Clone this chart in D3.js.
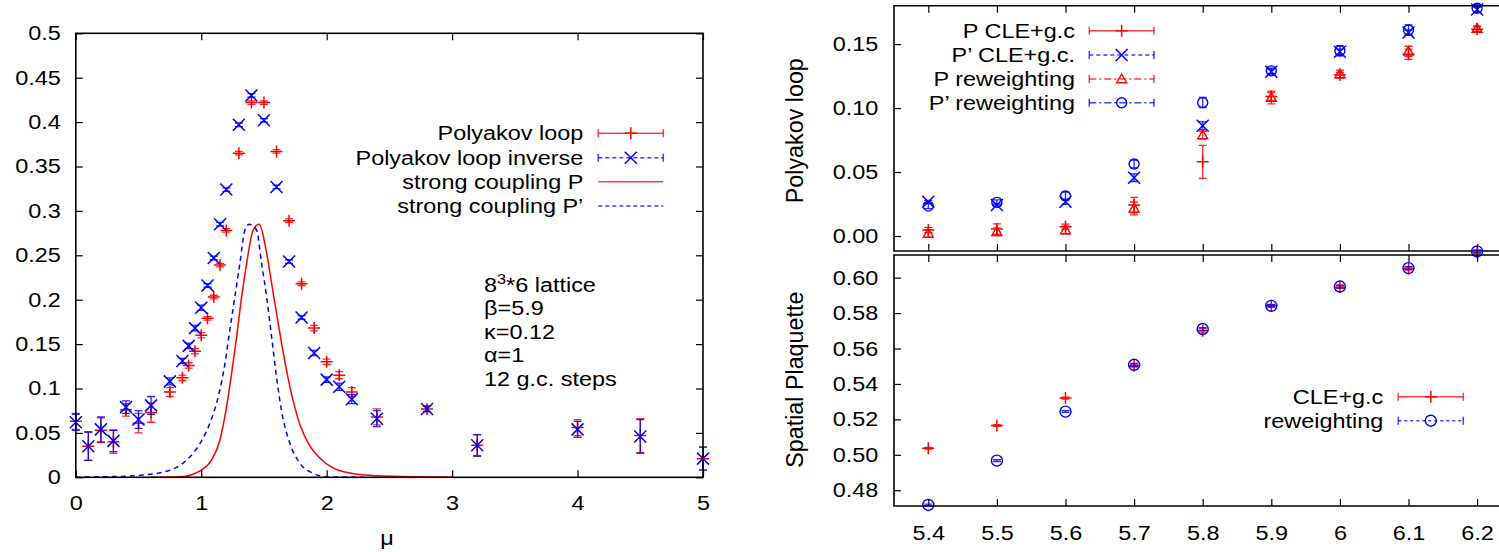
<!DOCTYPE html>
<html><head><meta charset="utf-8">
<script src="https://cdn.jsdelivr.net/npm/d3@7"></script>
<style>
body{margin:0;background:#fff}
svg{display:block}
text{font-family:"Liberation Sans",Arial,sans-serif;fill:#000}
</style>
</head><body>
<svg id="c" width="1499" height="552"></svg>
<script>
// ---------------- DATA ----------------
// Left panel: Polyakov loop vs mu
const mu = [0, 0.1, 0.2, 0.3, 0.4, 0.5, 0.6, 0.75, 0.85, 0.9, 0.95, 1.0, 1.05, 1.1, 1.15, 1.2, 1.3, 1.4, 1.5, 1.6, 1.7, 1.8, 1.9, 2.0, 2.1, 2.2, 2.4, 2.8, 3.2, 4.0, 4.5, 5.0];
const polyP = [0.063, 0.035, 0.053, 0.040, 0.076, 0.061, 0.073, 0.096, 0.112, 0.126, 0.142, 0.160, 0.179, 0.203, 0.239, 0.278, 0.365, 0.422, 0.422, 0.367, 0.289, 0.218, 0.168, 0.130, 0.115, 0.096, 0.068, 0.077, 0.036, 0.056, 0.047, 0.021];
const polyPErr = [0.009, 0.016, 0.014, 0.013, 0.007, 0.011, 0.011, 0.005, 0.003, 0.003, 0.003, 0.003, 0.002, 0.002, 0.002, 0.002, 0.002, 0.002, 0.002, 0.002, 0.002, 0.002, 0.003, 0.003, 0.004, 0.005, 0.009, 0.003, 0.012, 0.009, 0.019, 0.013];
const polyPinv = [0.062, 0.035, 0.054, 0.041, 0.079, 0.065, 0.081, 0.108, 0.131, 0.148, 0.168, 0.191, 0.216, 0.247, 0.285, 0.324, 0.397, 0.430, 0.402, 0.327, 0.243, 0.180, 0.140, 0.110, 0.102, 0.088, 0.066, 0.077, 0.036, 0.054, 0.046, 0.021];
const polyPinvErr = [0.009, 0.016, 0.014, 0.012, 0.007, 0.010, 0.010, 0.004, 0.003, 0.003, 0.003, 0.003, 0.002, 0.002, 0.002, 0.002, 0.002, 0.002, 0.002, 0.002, 0.002, 0.002, 0.003, 0.003, 0.004, 0.005, 0.009, 0.003, 0.012, 0.009, 0.019, 0.013];
// strong coupling curves
const scPmu  = [0.6, 0.845, 0.952, 1.0, 1.083, 1.149, 1.202, 1.242, 1.282, 1.322, 1.362, 1.414, 1.462, 1.515, 1.565, 1.62, 1.675, 1.733, 1.79, 1.855, 1.962, 2.095, 2.308, 2.6, 3.0];
const scP    = [0.0, 0.0005, 0.0045, 0.008, 0.0195, 0.042, 0.0795, 0.117, 0.158, 0.2034, 0.241, 0.2785, 0.285, 0.2575, 0.215, 0.168, 0.124, 0.086, 0.058, 0.038, 0.0195, 0.008, 0.0026, 0.0008, 0.0002];
const scPpmu = [0.0, 0.3, 0.537, 0.75, 0.884, 0.99, 1.069, 1.136, 1.189, 1.228, 1.268, 1.308, 1.348, 1.383, 1.441, 1.481, 1.521, 1.561, 1.6, 1.64, 1.707, 1.787, 1.893, 2.0, 2.3];
const scPp   = [0.0003, 0.0008, 0.0026, 0.008, 0.0195, 0.038, 0.061, 0.091, 0.128, 0.166, 0.2034, 0.241, 0.2785, 0.285, 0.2785, 0.241, 0.2034, 0.158, 0.113, 0.075, 0.038, 0.0158, 0.0045, 0.0005, 0.0];
const muTicks = [0, 1, 2, 3, 4, 5];
const polyTicks = [0, 0.05, 0.1, 0.15, 0.2, 0.25, 0.3, 0.35, 0.4, 0.45, 0.5];
const polyTickLabels = ["0", "0.05", "0.1", "0.15", "0.2", "0.25", "0.3", "0.35", "0.4", "0.45", "0.5"];
const leftLegend = ["Polyakov loop", "Polyakov loop inverse", "strong coupling P", "strong coupling P\u2019"];
const infoLines = ["\u03b2=5.9", "\u03ba=0.12", "\u03b1=1", "12 g.c. steps"];

// Right panels: vs beta
const beta = [5.4, 5.5, 5.6, 5.7, 5.8, 5.9, 6.0, 6.1, 6.2];
const pCle    = [0.0047, 0.0055, 0.0073, 0.0242, 0.058, 0.109, 0.1258, 0.142, 0.1615];
const pCleErr = [0.002, 0.004, 0.002, 0.006, 0.0129, 0.003, 0.002, 0.004, 0.002];
const ppCle    = [0.0268, 0.0242, 0.0268, 0.0456, 0.0862, 0.1284, 0.144, 0.159, 0.177];
const ppCleErr = [0.001, 0.001, 0.002, 0.003, 0.003, 0.002, 0.002, 0.002, 0.002];
const pRw    = [0.002, 0.0034, 0.0047, 0.0216, 0.0789, 0.1083, 0.1266, 0.1443, 0.1622];
const pRwErr = [0.003, 0.003, 0.003, 0.005, 0.003, 0.005, 0.003, 0.004, 0.002];
const ppRw    = [0.0234, 0.0263, 0.0313, 0.0563, 0.1044, 0.1291, 0.1448, 0.161, 0.178];
const ppRwErr = [0.002, 0.002, 0.003, 0.003, 0.004, 0.002, 0.004, 0.004, 0.003];
const plaqCle    = [0.5037, 0.5165, 0.532, 0.5503, 0.570, 0.5841, 0.5948, 0.6052, 0.6147];
const plaqCleErr = [0.0005, 0.0005, 0.0005, 0.0008, 0.0012, 0.0008, 0.0008, 0.0008, 0.0008];
const plaqRw    = [0.4717, 0.4967, 0.5244, 0.5508, 0.5710, 0.5841, 0.595, 0.6054, 0.6148];
const plaqRwErr = [0.0005, 0.0005, 0.0005, 0.0008, 0.0008, 0.0006, 0.0008, 0.0008, 0.0008];
const betaTicks = [5.4, 5.5, 5.6, 5.7, 5.8, 5.9, 6.0, 6.1, 6.2];
const betaTickLabels = ["5.4", "5.5", "5.6", "5.7", "5.8", "5.9", "6", "6.1", "6.2"];
const topTicks = [0, 0.05, 0.10, 0.15];
const topTickLabels = ["0.00", "0.05", "0.10", "0.15"];
const botTicks = [0.48, 0.50, 0.52, 0.54, 0.56, 0.58, 0.60];
const botTickLabels = ["0.48", "0.50", "0.52", "0.54", "0.56", "0.58", "0.60"];
const topLegend = ["P CLE+g.c", "P\u2019 CLE+g.c.", "P reweighting", "P\u2019 reweighting"];
const botLegend = ["CLE+g.c", "reweighting"];

// ---------------- LAYOUT ----------------
const RED = "#ff0000", BLUE = "#0000ff";
const FS = 20.2, SX = 1.16;
const svg = d3.select("#c");

const xL = d3.scaleLinear().domain([0, 5]).range([75.8, 703]);
const yL = d3.scaleLinear().domain([0, 0.5]).range([477.3, 33.3]);
const xR = d3.scaleLinear().domain([5.35, 6.25]).range([894, 1511.4]);
const yT = d3.scaleLinear().domain([-0.0117, 0.18]).range([251, 5.7]);
const yB = d3.scaleLinear().domain([0.4711, 0.6128]).range([506, 255]);

function stretchText(sel) {
  sel.each(function () {
    const t = d3.select(this);
    const x = +t.attr("x") || 0, y = +t.attr("y") || 0;
    t.attr("x", null).attr("y", null)
     .attr("transform", `translate(${x},${y}) scale(${SX},1)`);
  });
}
function txt(g, x, y, s, anchor) {
  return g.append("text").attr("transform", `translate(${x},${y}) scale(${SX},1)`)
    .attr("text-anchor", anchor || "start").style("font-size", FS + "px").text(s);
}

function axisGroup(axis, tx, ty) {
  const g = svg.append("g").attr("transform", `translate(${tx},${ty})`).call(axis);
  g.select(".domain").remove();
  g.selectAll(".tick line").attr("stroke", "#000").attr("stroke-width", 1.2);
  g.selectAll(".tick text").style("font-size", FS + "px").style("font-family", '"Liberation Sans",Arial,sans-serif').attr("fill", "#000");
  return g;
}

// ---------- markers ----------
function plus(g, cx, cy, r, col) {
  g.append("path").attr("d", `M${cx - r},${cy}H${cx + r}M${cx},${cy - r}V${cy + r}`)
    .attr("stroke", col).attr("stroke-width", 1.5).attr("fill", "none");
}
function cross(g, cx, cy, r, col) {
  g.append("path").attr("d", `M${cx - r},${cy - r}L${cx + r},${cy + r}M${cx - r},${cy + r}L${cx + r},${cy - r}`)
    .attr("stroke", col).attr("stroke-width", 1.5).attr("fill", "none");
}
function tri(g, cx, cy, r, col) {
  g.append("path").attr("d", `M${cx},${cy - r}L${cx + r},${cy + r * 0.75}L${cx - r},${cy + r * 0.75}Z`)
    .attr("stroke", col).attr("stroke-width", 1.4).attr("fill", "none");
}
function circ(g, cx, cy, r, col) {
  g.append("circle").attr("cx", cx).attr("cy", cy).attr("r", r)
    .attr("stroke", col).attr("stroke-width", 1.4).attr("fill", "none");
}
function errbar(g, cx, yTop, yBot, col, cap) {
  cap = cap || 4;
  g.append("path").attr("d", `M${cx},${yTop}V${yBot}M${cx - cap},${yTop}H${cx + cap}M${cx - cap},${yBot}H${cx + cap}`)
    .attr("stroke", col).attr("stroke-width", 1.3).attr("fill", "none").attr("opacity", 0.85);
}
function series(g, xs, ys, es, xsc, ysc, col, marker, r) {
  xs.forEach((x, i) => {
    const cx = xsc(x);
    errbar(g, cx, ysc(ys[i] + es[i]), ysc(ys[i] - es[i]), col);
  });
  xs.forEach((x, i) => marker(g, xsc(x), ysc(ys[i]), r, col));
}
function legendRow(g, x0, x1, y, col, dash, marker, r, caps) {
  g.append("line").attr("x1", x0).attr("x2", x1).attr("y1", y).attr("y2", y)
    .attr("stroke", col).attr("stroke-width", 1.5).attr("opacity", 0.75)
    .attr("stroke-dasharray", dash || null);
  if (caps) {
    g.append("path").attr("d", `M${x0},${y - 4}V${y + 4}M${x1},${y - 4}V${y + 4}`)
      .attr("stroke", col).attr("stroke-width", 1.5).attr("opacity", 0.75);
  }
  if (marker) marker(g, (x0 + x1) / 2, y, r, col);
}

// ================= LEFT PANEL =================
const gL = svg.append("g");
const axL = axisGroup(d3.axisLeft(yL).tickValues(polyTicks).tickFormat((d, i) => polyTickLabels[i]).tickSize(-7).tickPadding(15), 75.8, 0);
axisGroup(d3.axisRight(yL).tickValues(polyTicks).tickFormat("").tickSize(-7), 703, 0);
const axLb = axisGroup(d3.axisBottom(xL).tickValues(muTicks).tickFormat(d3.format("d")).tickSize(-7).tickPadding(18), 0, 477.3);
axisGroup(d3.axisTop(xL).tickValues(muTicks).tickFormat("").tickSize(-7), 0, 33.3);
[axL, axLb].forEach(a => a.selectAll(".tick text").call(stretchText));
svg.append("rect").attr("x", xL(0)).attr("y", yL(0.5)).attr("width", xL(5) - xL(0)).attr("height", yL(0) - yL(0.5))
  .attr("fill", "none").attr("stroke", "#000").attr("stroke-width", 1.6);
txt(svg, 387, 545, "\u03bc", "middle");

// curves
const lineP = d3.line().x((d, i) => xL(scPmu[i])).y(d => yL(d)).curve(d3.curveMonotoneX);
gL.append("path").attr("d", lineP(scP)).attr("fill", "none").attr("stroke", RED).attr("stroke-width", 1.5);
const linePp = d3.line().x((d, i) => xL(scPpmu[i])).y(d => yL(d)).curve(d3.curveMonotoneX);
gL.append("path").attr("d", linePp(scPp)).attr("fill", "none").attr("stroke", BLUE).attr("stroke-width", 1.5).attr("stroke-dasharray", "5,4");
// data
series(gL, mu, polyP, polyPErr, xL, yL, RED, plus, 6);
series(gL, mu, polyPinv, polyPinvErr, xL, yL, BLUE, cross, 6);

// legend
const legLy = [133.3, 157.7, 181.7, 206];
leftLegend.forEach((s, i) => txt(gL, 583.3, legLy[i] + 7, s, "end"));
legendRow(gL, 598.3, 663.3, legLy[0], RED, null, plus, 6, true);
legendRow(gL, 598.3, 663.3, legLy[1], BLUE, "4,3", cross, 6, true);
legendRow(gL, 598.3, 663.3, legLy[2], RED, null, null, 0, false);
legendRow(gL, 598.3, 663.3, legLy[3], BLUE, "4,3", null, 0, false);

// info text
const info = gL.append("text").attr("transform", `translate(484,291.5) scale(${SX},1)`).style("font-size", FS + "px");
info.append("tspan").text("8");
info.append("tspan").attr("dy", -8).style("font-size", "14px").text("3");
info.append("tspan").attr("dy", 8).text("*6 lattice");
infoLines.forEach((s, i) => txt(gL, 484, 315 + i * 23.5, s, "start"));

// ================= RIGHT TOP =================
const gT = svg.append("g");
const axT = axisGroup(d3.axisLeft(yT).tickValues(topTicks).tickFormat((d, i) => topTickLabels[i]).tickSize(-7).tickPadding(15.7), 894, 0);
axT.selectAll(".tick text").call(stretchText);
axisGroup(d3.axisTop(xR).tickValues(betaTicks).tickFormat("").tickSize(-7), 0, 5.7);
axisGroup(d3.axisBottom(xR).tickValues(betaTicks).tickFormat("").tickSize(-7), 0, 251);
svg.append("path").attr("d", `M1520,5.7H894V251H1520`).attr("fill", "none").attr("stroke", "#000").attr("stroke-width", 1.6);
svg.append("text").attr("transform", "translate(803,130.7) rotate(-90)").attr("text-anchor", "middle")
  .style("font-size", "23.3px").text("Polyakov loop");

series(gT, beta, pCle, pCleErr, xR, yT, RED, plus, 6);
series(gT, beta, ppCle, ppCleErr, xR, yT, BLUE, cross, 6);
series(gT, beta, pRw, pRwErr, xR, yT, RED, tri, 5);
series(gT, beta, ppRw, ppRwErr, xR, yT, BLUE, circ, 5);

const legTy = [30.7, 55, 79, 102.7];
topLegend.forEach((s, i) => txt(gT, 1075, legTy[i] + 7, s, "end"));
legendRow(gT, 1089.3, 1154, legTy[0], RED, null, plus, 6, true);
legendRow(gT, 1089.3, 1154, legTy[1], BLUE, "4,3", cross, 6, true);
legendRow(gT, 1089.3, 1154, legTy[2], RED, "7,3,2,3", tri, 5, true);
legendRow(gT, 1089.3, 1154, legTy[3], BLUE, "7,3,2,3", circ, 5, true);

// ================= RIGHT BOTTOM =================
const gB = svg.append("g");
const axB = axisGroup(d3.axisLeft(yB).tickValues(botTicks).tickFormat((d, i) => botTickLabels[i]).tickSize(-7).tickPadding(15.7), 894, 0);
axB.selectAll(".tick text").call(stretchText);
axisGroup(d3.axisTop(xR).tickValues(betaTicks).tickFormat("").tickSize(-7), 0, 255);
const axBb = axisGroup(d3.axisBottom(xR).tickValues(betaTicks).tickFormat((d, i) => betaTickLabels[i]).tickSize(-7).tickPadding(20), 0, 506);
axBb.selectAll(".tick text").call(stretchText);
svg.append("path").attr("d", `M1520,255H894V506H1520`).attr("fill", "none").attr("stroke", "#000").attr("stroke-width", 1.6);
svg.append("text").attr("transform", "translate(803,379.7) rotate(-90)").attr("text-anchor", "middle")
  .style("font-size", "23.3px").text("Spatial Plaquette");

series(gB, beta, plaqCle, plaqCleErr, xR, yB, RED, plus, 6);
series(gB, beta, plaqRw, plaqRwErr, xR, yB, BLUE, circ, 5.5);

const legBy = [396.7, 420.7];
botLegend.forEach((s, i) => txt(gB, 1383.3, legBy[i] + 7, s, "end"));
legendRow(gB, 1398.3, 1463.3, legBy[0], RED, null, plus, 6, true);
legendRow(gB, 1398.3, 1463.3, legBy[1], BLUE, "3,3", circ, 5.5, true);
</script>
</body></html>
